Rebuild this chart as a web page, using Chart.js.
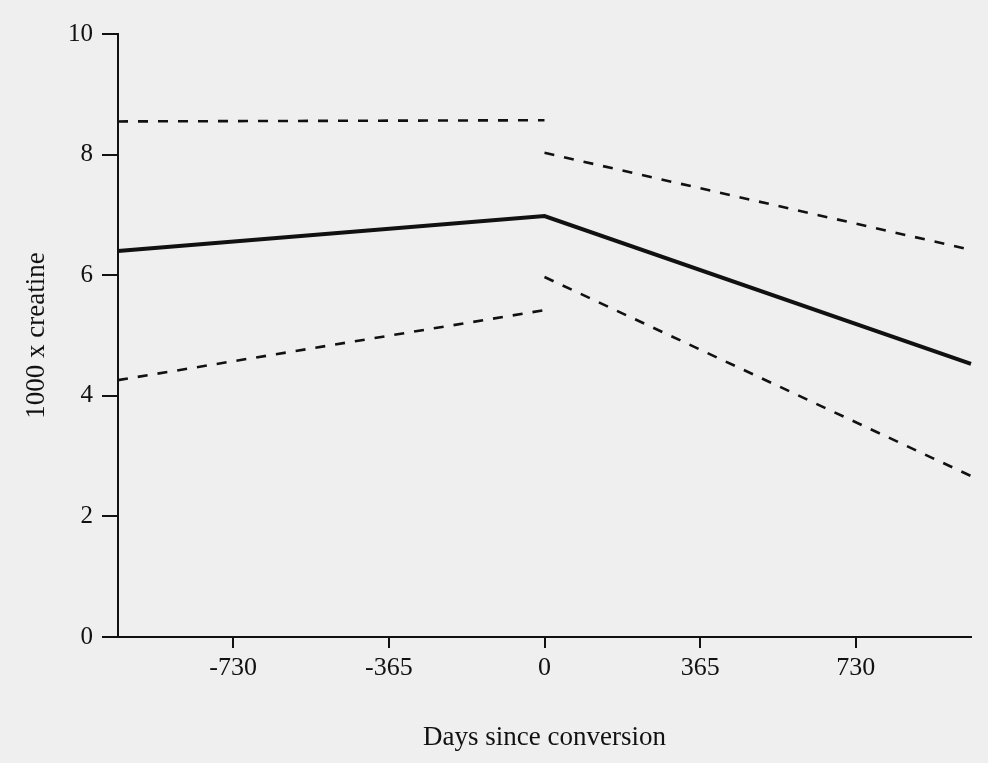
<!DOCTYPE html>
<html>
<head>
<meta charset="utf-8">
<title>1000 x creatine</title>
<script src="https://cdn.jsdelivr.net/npm/chart.js@4.4.1/dist/chart.umd.min.js"></script>
<style>
  html, body { margin: 0; padding: 0; background: #efefef; }
  #wrap { width: 988px; height: 763px; position: relative; }
</style>
</head>
<body>
<div id="wrap"><canvas id="chart"></canvas></div>
<script>
// 天數（轉換前後），兩段各自擬合
const daysBefore = [-1000, 0];
const daysAfter = [0, 1000];
const fitDays = [-1000, 0, 1000];
const fitValues = [6.40, 6.98, 4.53];      // 實線
const upperBefore = [8.55, 8.57];          // 上信賴界（轉換前）
const upperAfter = [8.03, 6.42];           // 上信賴界（轉換後）
const lowerBefore = [4.26, 5.42];          // 下信賴界（轉換前）
const lowerAfter = [5.97, 2.67];           // 下信賴界（轉換後）
const xTicks = [-730, -365, 0, 365, 730];
const yTicks = [0, 2, 4, 6, 8, 10];

const INK = '#111';
const SERIF = "'Liberation Serif', 'DejaVu Serif', serif";

const pts = (xs, ys) => xs.map((x, i) => ({ x, y: ys[i] }));

function dashed(xs, ys) {
  return {
    data: pts(xs, ys),
    borderColor: INK,
    borderWidth: 2.6,
    borderDash: [10, 10],
    pointRadius: 0,
    tension: 0,
    clip: false,
  };
}

const datasets = [
  { data: pts(fitDays, fitValues), borderColor: INK, borderWidth: 4, pointRadius: 0, tension: 0, clip: false },
  dashed(daysBefore, upperBefore),
  dashed(daysAfter, upperAfter),
  dashed(daysBefore, lowerBefore),
  dashed(daysAfter, lowerAfter),
];

new Chart(document.getElementById('chart'), {
  type: 'line',
  data: { datasets },
  options: {
    responsive: true,
    maintainAspectRatio: false,
    animation: false,
    layout: { padding: { top: 34, right: 17, bottom: 0, left: 0 } },
    plugins: { legend: { display: false }, tooltip: { enabled: false } },
    scales: {
      x: {
        type: 'linear',
        min: -1000,
        max: 1000,
        afterBuildTicks: (s) => { s.ticks = xTicks.map((v) => ({ value: v })); },
        afterFit: (s) => { s.height = 126; },
        border: { display: true, color: INK, width: 2 },
        grid: { drawOnChartArea: false, drawTicks: true, tickLength: 11, color: INK, lineWidth: 2 },
        ticks: { color: INK, padding: 5, maxRotation: 0, font: { family: SERIF, size: 26 } },
        title: { display: true, text: 'Days since conversion', color: INK, padding: { top: 0, bottom: 9 }, font: { family: SERIF, size: 27 } },
      },
      y: {
        min: 0,
        max: 10,
        afterBuildTicks: (s) => { s.ticks = yTicks.map((v) => ({ value: v })); },
        afterFit: (s) => { s.width = 118; },
        border: { display: true, color: INK, width: 2 },
        grid: { drawOnChartArea: false, drawTicks: true, tickLength: 16, color: INK, lineWidth: 2 },
        ticks: { color: INK, padding: 9, font: { family: SERIF, size: 25 } },
        title: { display: true, text: '1000 x creatine', color: INK, padding: { top: 21, bottom: 0 }, font: { family: SERIF, size: 27 } },
      },
    },
  },
});
</script>
</body>
</html>
